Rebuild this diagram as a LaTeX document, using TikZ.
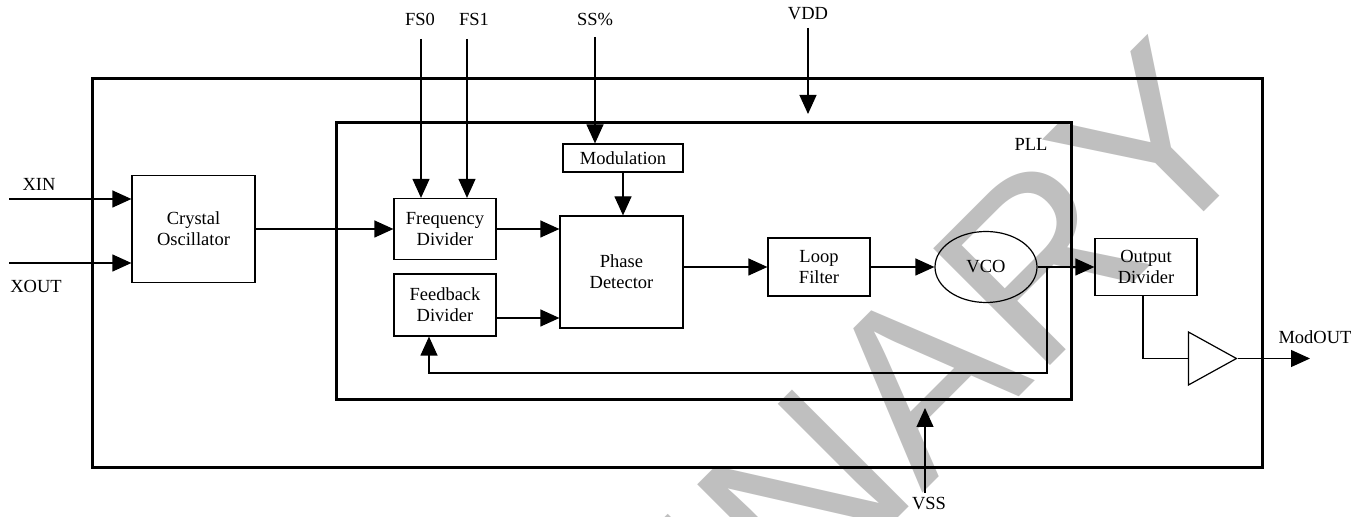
\documentclass[tikz,border=0pt]{standalone}
\usepackage{fontspec}
\setmainfont{Liberation Serif}
\newfontfamily\wmfont{Liberation Sans}
\usetikzlibrary{scopes}
\usetikzlibrary{arrows.meta}
\usetikzlibrary{shapes.geometric}

\begin{document}
\begin{tikzpicture}[x=1pt, y=1pt,
        font=\fontsize{18.5}{21}\selectfont,
        block/.style={draw, line width=1.2pt, align=center, inner sep=0pt},
        frame/.style={draw, line width=3pt},
        arr/.style={line width=1.2pt, -{Triangle[length=19pt, width=17pt]}},
        wire/.style={line width=1.2pt}]
        \useasboundingbox (0,0) rectangle (1369,517);

        \begin{scope}
            \clip (0,0) rectangle (1369,517);
            \node[rotate=45, anchor=base east, text=black!25, inner sep=0pt,
                font=\wmfont\fontsize{240}{240}\selectfont] (wm) at (1269,370) {PRELIMINARY};
        \end{scope}

        \draw[frame] (92,49) rectangle (1262,438);
        \draw[frame] (336,117) rectangle (1071,394);
        \node (pll) at (1031,373) {PLL};

        \node[block, minimum width=123pt, minimum height=107pt] (xtal) at (193.5,288) {Crystal\\Oscillator};
        \node[block, minimum width=102pt, minimum height=61pt] (fdiv) at (445,288) {Frequency\\Divider};
        \node[block, minimum width=102pt, minimum height=62pt] (fbdiv) at (445,212) {Feedback\\Divider};
        \node[block, minimum width=120pt, minimum height=28pt] (mod) at (623,359) {Modulation};
        \node[block, minimum width=123pt, minimum height=112pt] (pd) at (621.5,245) {Phase\\Detector};
        \node[block, minimum width=102pt, minimum height=58pt] (lf) at (819,250) {Loop\\Filter};
        \node[block, ellipse, minimum width=102pt, minimum height=71pt] (vco) at (986,250) {VCO};
        \node[block, minimum width=102pt, minimum height=57pt] (odiv) at (1146,250) {Output\\Divider};
        \node[draw, line width=1.2pt, isosceles triangle, isosceles triangle stretches,
            minimum width=53pt, minimum height=48pt, inner sep=0pt, anchor=apex] (buf) at (1238,158.5) {};

        \node (xinl) at (39,333) {XIN};
        \node (xoutl) at (36,231) {XOUT};
        \node (fs0l) at (420,498) {FS0};
        \node (fs1l) at (474,498) {FS1};
        \node (ssl) at (595,498) {SS\%};
        \node (vddl) at (808,503) {VDD};
        \node (vssl) at (929,13) {VSS};
        \node (outl) at (1315,180) {ModOUT};

        \coordinate (xin) at (9,318);
        \coordinate (xout) at (9,254);
        \coordinate (fs0) at (421,478);
        \coordinate (fs1) at (467,478);
        \coordinate (ss) at (595,480);
        \coordinate (vdd) at (808,489);
        \coordinate (vddtip) at (808,403);
        \coordinate (vss) at (925,24);
        \coordinate (vsstip) at (925,109);
        \coordinate (tap) at (1047,250);
        \coordinate (out) at (1310,158.5);

        {[arr]
            \draw (xin) -- (xin -| xtal.west);
            \draw (xout) -- (xout -| xtal.west);
            \draw (fs0) -- (fs0 |- fdiv.north);
            \draw (fs1) -- (fs1 |- fdiv.north);
            \draw (ss) -- (ss |- mod.north);
            \draw (vdd) -- (vddtip);
            \draw (vss) -- (vsstip);
            \draw (xtal.east) -- (fdiv.west);
            \draw (fdiv.east) -- (fdiv.east -| pd.west);
            \draw ([yshift=-13pt]fbdiv.east) -- ([yshift=-13pt]fbdiv.east -| pd.west);
            \draw (mod.south) -- (mod.south |- pd.north);
            \draw (pd.east |- lf.west) -- (lf.west);
            \draw (lf.east) -- (vco.west);
            \draw (vco.east) -- (odiv.west);
            \draw (tap) -- ++(0,-106) -| ([xshift=-16pt]fbdiv.south);
            \draw (buf.apex) -- (out);
        }
        \draw[wire] ([xshift=-3pt]odiv.south) |- (buf.west);

    \end{tikzpicture}
\end{document}
